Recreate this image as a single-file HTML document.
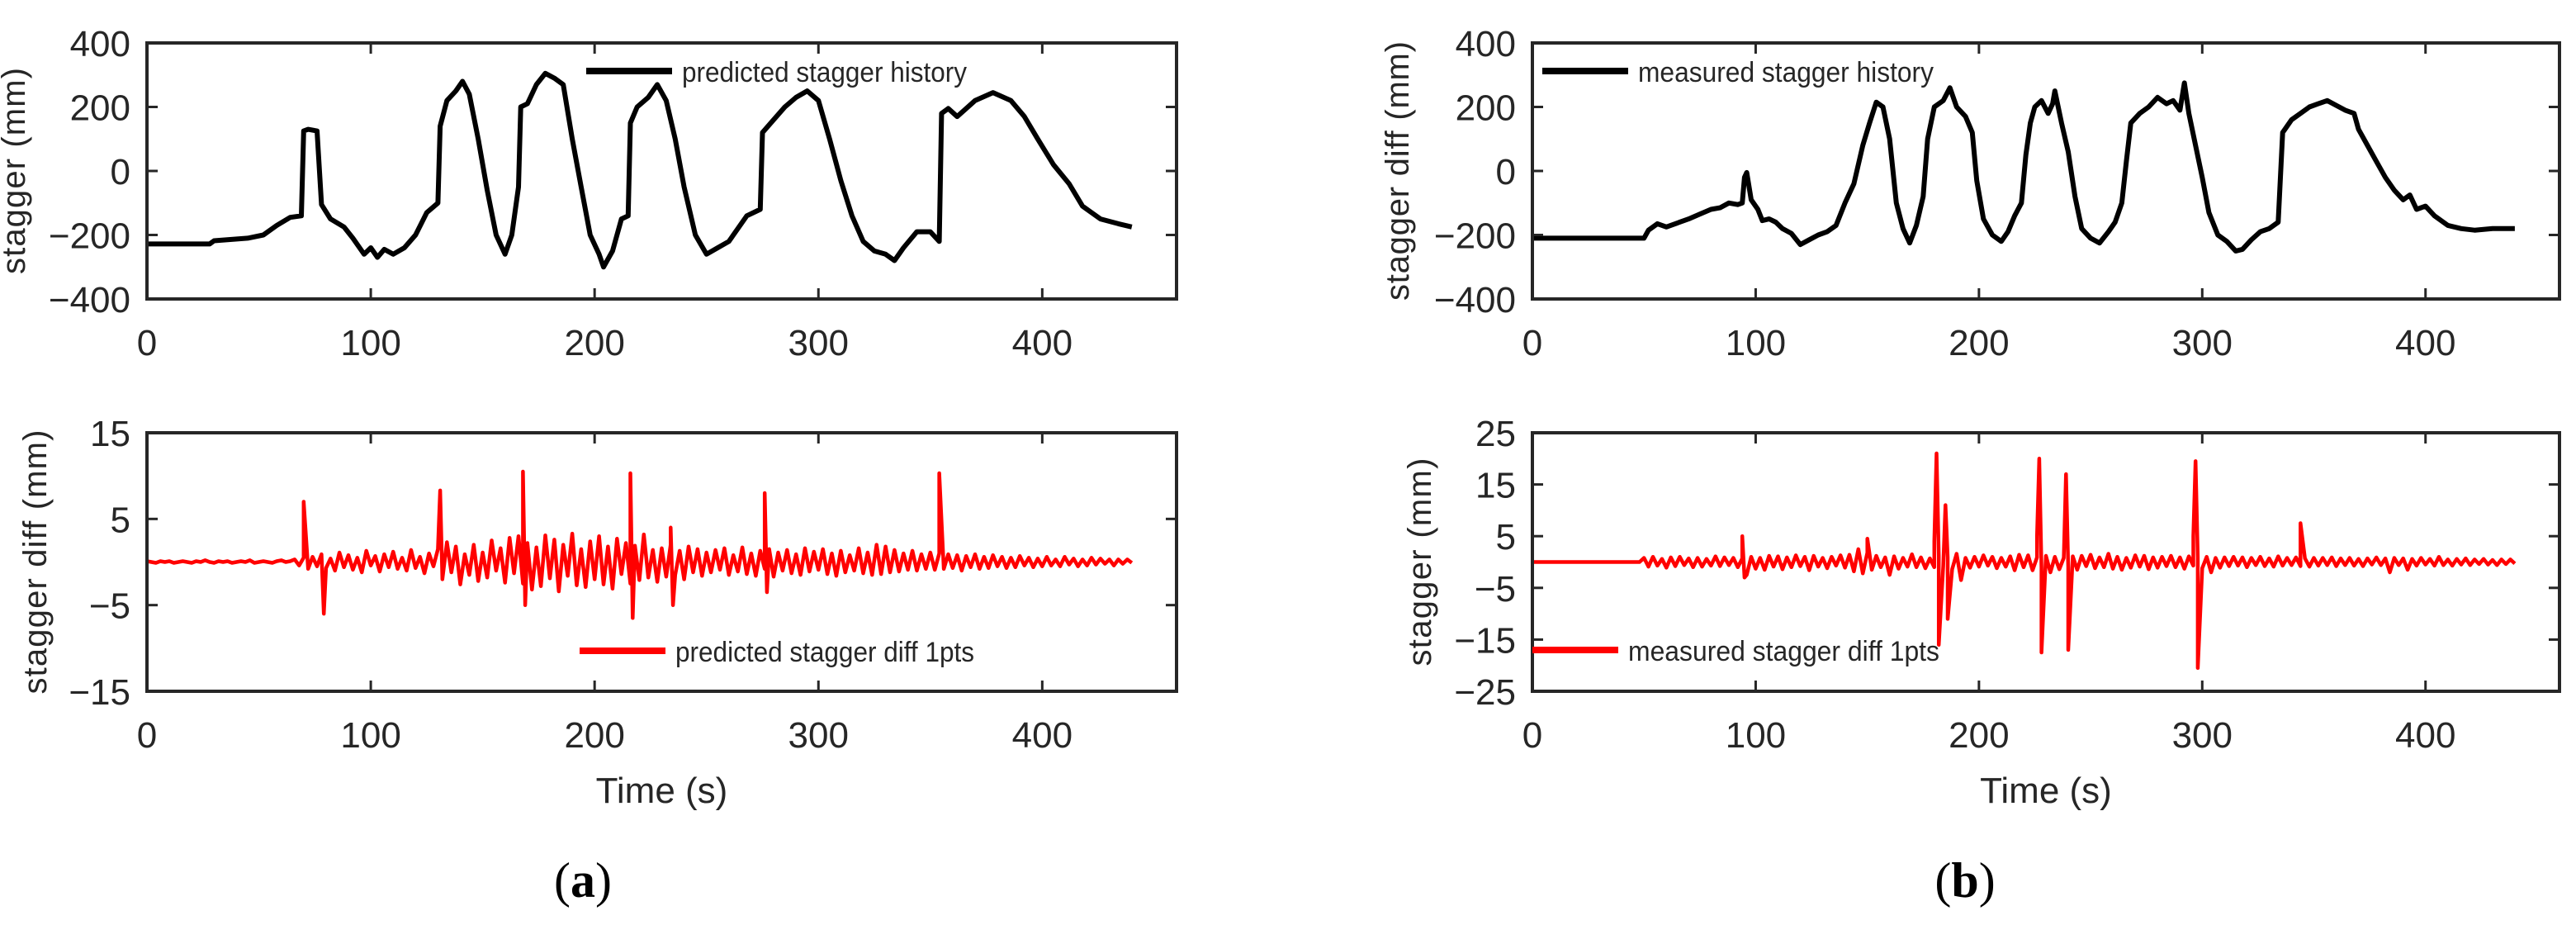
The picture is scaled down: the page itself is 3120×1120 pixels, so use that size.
<!DOCTYPE html>
<html><head><meta charset="utf-8"><style>
html,body{margin:0;padding:0;background:#fff}
svg{display:block}
text{font-family:"Liberation Sans",sans-serif;fill:#262626}
</style></head><body>
<svg id="fig" width="3120" height="1120" viewBox="0 0 3120 1120" xmlns="http://www.w3.org/2000/svg"></svg>
<script>
// ---- data ----
const xTicks = [0,100,200,300,400];
const histTicks = [400,200,0,-200,-400];
const diffTicksA = [15,5,-5,-15];
const diffTicksB = [25,15,5,-5,-15,-25];

const predT = [0,28,30,45,52,58,64,69,70,72,76,78,82,88,92,97,100,103,106,110,115,120,125,130,131,134,138,141,144,148,152,156,160,163,166,167,170,174,178,182,186,190,194,198,202,204,208,212,215,216,219,224,228,232,236,240,245,250,255,260,268,274,275,280,285,290,295,300,305,310,315,320,325,330,334,338,344,350,354,355,358,362,370,378,386,392,398,405,412,418,426,434,440];
const predV = [-228,-228,-218,-210,-200,-170,-145,-140,125,130,125,-105,-150,-175,-210,-260,-240,-270,-245,-260,-240,-200,-130,-100,140,220,250,280,240,100,-60,-200,-260,-200,-50,200,210,270,305,290,270,100,-50,-200,-260,-300,-250,-150,-140,150,200,230,270,220,100,-50,-200,-260,-240,-220,-140,-120,120,160,200,230,250,220,100,-30,-140,-220,-250,-260,-280,-240,-190,-190,-220,180,195,170,220,245,220,170,100,20,-40,-110,-150,-165,-175];

const measT = [0,50,52,56,60,64,70,75,80,84,88,92,94,95,96,98,101,103,106,109,112,116,120,124,128,132,136,140,144,148,151,154,157,160,163,166,169,172,175,177,180,184,187,190,194,197,199,202,206,210,213,216,219,221,223,225,228,231,233,234,237,240,243,246,250,254,258,261,264,266,268,272,276,280,284,287,290,292,294,297,300,303,307,311,315,318,322,326,330,334,336,340,344,348,352,356,360,364,368,370,374,378,382,386,390,393,396,400,404,410,416,422,430,440];
const measV = [-210,-210,-185,-165,-175,-165,-150,-135,-120,-115,-100,-105,-100,-20,-5,-90,-120,-155,-150,-160,-180,-195,-230,-215,-200,-190,-170,-100,-40,80,150,215,200,100,-100,-180,-225,-170,-80,100,200,220,260,200,170,120,-30,-150,-200,-220,-190,-140,-100,50,150,200,220,180,210,250,150,60,-80,-180,-210,-225,-190,-160,-100,30,150,180,200,230,210,220,190,275,180,80,-20,-130,-200,-220,-250,-245,-215,-190,-180,-160,120,160,180,200,210,220,205,190,180,130,80,30,-20,-60,-90,-75,-120,-110,-140,-170,-180,-185,-180,-180];

// diff noise sampled every 2 s from 0 to 440
const predDiffNoise = [0.1,0,-0.1,0.1,0,0.1,-0.1,0,0.1,0,-0.1,0.1,0,0.2,0,-0.1,0.1,0,0.1,-0.1,0,0.1,0,0.2,-0.1,0,0.1,0,-0.1,0.1,0.2,0,0.1,
0.3,-0.4,0.5,-0.8,0.6,-0.5,0.9,-0.7,0.4,-1.0,1.1,-0.6,0.8,-0.9,0.5,-1.2,1.3,-0.4,0.7,-1.1,0.9,-0.6,1.2,-0.8,0.5,-1.0,1.4,-0.7,0.6,-1.3,1.0,-0.5,
1.5,-2.0,2.3,-1.2,1.8,-2.6,0.9,-1.5,2.0,-2.2,1.1,-1.8,2.5,-1.0,1.6,-2.4,2.8,-1.3,3.0,-2.5,2.2,-3.2,1.7,-2.8,3.1,-1.9,2.6,-3.4,2.0,-1.6,3.3,-2.7,1.5,-2.9,2.4,-2.0,3.0,-2.6,1.8,-3.1,2.7,-1.4,2.2,-2.5,1.9,-2.1,3.2,-1.8,1.4,-2.3,1.6,-1.7,2.0,-1.5,1.3,-2.0,1.8,-1.2,1.5,-1.6,1.1,
-1.2,1.4,-0.9,1.6,-1.5,0.8,-1.1,1.7,-1.4,1.0,-1.6,1.3,-0.8,1.5,-1.7,1.1,-1.0,1.4,-1.3,0.9,-1.5,1.6,-1.1,1.2,-0.9,1.5,-1.4,1.0,-1.6,1.3,-1.2,0.8,-1.0,1.6,-1.3,1.1,-1.5,2.0,-1.4,1.8,-1.2,1.4,-1.1,1.0,-0.9,1.3,-1.0,0.9,-0.8,1.1,
-0.9,1.0,-0.8,0.9,-0.7,0.8,-1.0,0.7,-0.6,0.9,-0.8,0.6,-0.7,0.8,-0.5,0.6,-0.7,0.5,-0.6,0.7,-0.4,0.5,-0.6,0.4,-0.5,0.6,-0.4,0.3,-0.5,0.6,-0.3,0.4,-0.5,0.3,-0.4,0.5,-0.3,0.4,-0.2,0.3,-0.4,0.3,-0.2,0.3,-0.1];
const predSpikeT = [70,79,131,168,169,216,217,234,235,276,277,354];
const predSpikeV = [7.0,-6,8.3,10.5,-5,10.3,-6.5,4,-5,8,-3.5,10.3];

const measDiffNoise = [0,0,0,0,0,0,0,0,0,0,0,0,0,0,0,0,0,0,0,0,0,0,0,0,0,
0.8,-0.9,1.0,-0.7,0.6,-1.1,0.9,-0.8,1.0,-0.6,0.7,-1.0,0.8,-0.9,0.6,-0.7,1.1,-0.8,0.9,-0.6,0.8,
-1.0,0.7,-2.5,1.0,-1.3,0.8,-1.5,1.2,-0.9,1.1,-1.4,0.9,-1.0,1.3,-0.8,1.0,-1.6,1.2,-0.9,0.8,-1.2,1.0,-0.7,1.3,-1.1,
1.4,-1.8,2.5,-2.2,1.8,-1.5,1.2,-1.0,0.9,-2.5,1.1,-1.3,0.8,-0.9,1.5,
-1.0,0.9,-1.2,0.7,-1.0,1.2,-0.8,0.9,-1.4,1.6,-3.5,0.8,-1.1,1.0,-0.9,1.3,-0.7,1.0,-1.2,0.8,-0.9,1.1,-1.6,1.4,-1.0,
1.3,-1.6,0.9,-1.1,1.2,-2.0,1.0,-1.4,0.8,-1.0,1.1,-1.5,1.2,-0.8,1.4,-1.2,0.9,-1.0,1.6,-1.3,1.0,-1.5,0.8,-1.1,1.3,-0.9,1.2,-1.4,0.9,-1.1,1.0,-0.8,1.2,-1.0,0.9,-1.3,1.1,-0.7,0.9,-1.2,
1.0,-2.0,0.8,-1.1,0.9,-0.8,1.0,-0.7,0.9,-1.0,0.8,-0.6,1.0,-0.8,0.7,-0.9,1.1,-0.7,0.8,-0.6,0.9,-0.8,0.7,-0.9,0.8,
-0.7,0.8,-0.6,0.9,-0.8,0.7,-0.6,0.8,-0.7,0.6,-0.8,0.7,-0.5,0.9,-0.6,0.7,-2.0,0.8,-0.6,0.7,-1.5,0.6,-0.7,0.8,-0.5,0.6,-0.7,1.0,-0.6,0.5,-0.7,0.6,-0.5,0.7,-0.6,0.5,-0.4,0.6,-0.5,0.4,-0.6,0.5,-0.4,0.5,-0.3];
const measSpikeT = [94,95,150,180,181,182,185,186,226,227,228,239,240,296,297,298,344];
const measSpikeV = [5,-3,4.5,4,21,-16,11,-11,5,20,-17.5,17,-17,5,19.5,-20.5,7.5];

// ---- drawing ----
const NS='http://www.w3.org/2000/svg';
const svg=document.getElementById('fig');
function mk(tag,attrs,parent){const e=document.createElementNS(NS,tag);for(const k in attrs)e.setAttribute(k,attrs[k]);(parent||svg).appendChild(e);return e;}

function axes(x0,x1,y0,y1,ymin,ymax){
  return {sx:t=>x0+(t/460)*(x1-x0), sy:v=>y1-(v-ymin)/(ymax-ymin)*(y1-y0), x0,x1,y0,y1};
}
function merge(noise,st,sv){
  const pts=noise.map((v,i)=>[i*2,v]);
  st.forEach((t,i)=>pts.push([t,sv[i]]));
  pts.sort((a,b)=>a[0]-b[0]);
  return pts;
}
function panel(name,ax,yTicks,ylab,ylabX,ylabLen,pts,color,sw,legend,showTime){
  const g=mk('g',{});
  
  
  const d=pts.map((p,i)=>(i?'L':'M')+ax.sx(p[0]).toFixed(1)+' '+ax.sy(p[1]).toFixed(1)).join(' ');
  const line=mk('path',{d:d,fill:'none',stroke:color,'stroke-width':sw,'stroke-linejoin':'round'},g);
  
  
  const box=mk('rect',{x:ax.x0,y:ax.y0,width:ax.x1-ax.x0,height:ax.y1-ax.y0,fill:'none',stroke:'#262626','stroke-width':4},g);
  
  
  xTicks.forEach(t=>{
    const x=ax.sx(t);
    mk('line',{x1:x,x2:x,y1:ax.y1,y2:ax.y1-13,stroke:'#262626','stroke-width':3},g);
    mk('line',{x1:x,x2:x,y1:ax.y0,y2:ax.y0+13,stroke:'#262626','stroke-width':3},g);
    const tx=mk('text',{x:x,y:ax.y1+68,'font-size':44,'text-anchor':'middle'},g);
    tx.textContent=t;
    
    
  });
  yTicks.forEach(v=>{
    const y=ax.sy(v);
    mk('line',{x1:ax.x0,x2:ax.x0+13,y1:y,y2:y,stroke:'#262626','stroke-width':3},g);
    mk('line',{x1:ax.x1,x2:ax.x1-13,y1:y,y2:y,stroke:'#262626','stroke-width':3},g);
    const tx=mk('text',{x:ax.x0-20,y:y+16,'font-size':44,'text-anchor':'end'},g);
    tx.textContent=(v<0?'\u2212':'')+Math.abs(v);
    
    
  });
  const cy=(ax.y0+ax.y1)/2;
  const yl=mk('text',{x:0,y:0,'font-size':40,'text-anchor':'middle',textLength:ylabLen,lengthAdjust:'spacing',transform:`translate(${ylabX},${cy}) rotate(-90)`},g);
  yl.textContent=ylab;
  
  
  const lg=mk('g',{},g);
  
  
  mk('line',{x1:legend.x,x2:legend.x+104,y1:legend.y,y2:legend.y,stroke:color,'stroke-width':8},lg);
  const lt=mk('text',{x:legend.x+116,y:legend.y+13,'font-size':34,textLength:legend.len,lengthAdjust:'spacingAndGlyphs'},lg);
  lt.textContent=legend.text;
  if(showTime){
    const tt=mk('text',{x:(ax.x0+ax.x1)/2,y:972,'font-size':44,'text-anchor':'middle'},g);
    tt.textContent='Time (s)';
    
    
  }
}
const TL=axes(178,1425,52,362,-400,400);
const BL=axes(178,1425,524,837,-15,15);
const TR=axes(1856,3100,52,362,-400,400);
const BR=axes(1856,3100,524,837,-25,25);

panel('predicted-history-plot',TL,histTicks,'stagger (mm)',30,250,predT.map((t,i)=>[t,predV[i]]),'#000',6,{x:710,y:86,text:'predicted stagger history',len:345},false);
panel('predicted-diff-plot',BL,diffTicksA,'stagger diff (mm)',56,320,merge(predDiffNoise,predSpikeT,predSpikeV),'#ff0000',4.5,{x:702,y:788,text:'predicted stagger diff 1pts',len:362},true);
panel('measured-history-plot',TR,histTicks,'stagger diff (mm)',1706,314,measT.map((t,i)=>[t,measV[i]]),'#000',6,{x:1868,y:86,text:'measured stagger history',len:358},false);
panel('measured-diff-plot',BR,diffTicksB,'stagger (mm)',1733,252,merge(measDiffNoise,measSpikeT,measSpikeV),'#ff0000',4.5,{x:1856,y:787,text:'measured stagger diff 1pts',len:377},true);

[['(a)',706],['(b)',2380]].forEach(([s,x])=>{
  const t=mk('text',{x:x,y:1086,'font-size':60,'text-anchor':'middle',style:'font-family:"Liberation Serif",serif;fill:#000'});
  t.innerHTML='(<tspan font-weight="bold">'+s[1]+'</tspan>)';
  
  
});
</script>
</body></html>
